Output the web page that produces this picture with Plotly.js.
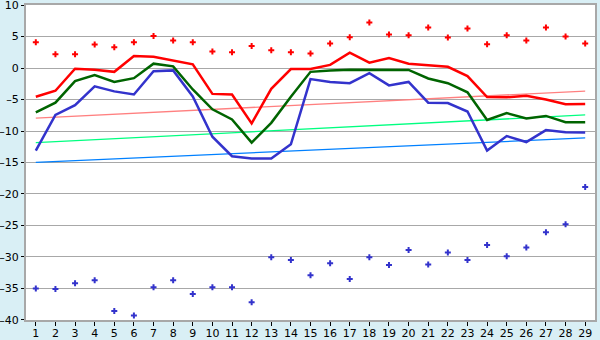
<!DOCTYPE html>
<html>
<head>
<meta charset="utf-8">
<script src="https://cdn.plot.ly/plotly-3.0.1.min.js"></script>
<style>html,body{margin:0;padding:0;background:#d9eff5;}#chart{width:600px;height:340px;}</style>
</head>
<body>
<div id="chart"></div>
<script>
const categories = [1,2,3,4,5,6,7,8,9,10,11,12,13,14,15,16,17,18,19,20,21,22,23,24,25,26,27,28,29];
const redPoints = [4.1,2.2,2.2,3.75,3.3,4.1,5.1,4.4,4.1,2.65,2.5,3.5,2.85,2.5,2.3,3.9,4.9,7.25,5.35,5.2,6.45,4.85,6.3,3.8,5.2,4.4,6.45,5.0,3.9];
const bluePoints = [-35,-35.1,-34.2,-33.7,-38.6,-39.3,-34.8,-33.7,-35.9,-34.8,-34.8,-37.2,-30.05,-30.5,-32.9,-31.0,-33.5,-30.05,-31.3,-28.9,-31.2,-29.3,-30.5,-28.1,-29.9,-28.5,-26.1,-24.8,-18.9];
const redLine = [-4.55,-3.6,-0.1,-0.27,-0.6,1.9,1.8,1.15,0.6,-4.1,-4.2,-8.8,-3.3,-0.15,-0.15,0.5,2.45,0.85,1.6,0.7,0.5,0.2,-1.27,-4.6,-4.65,-4.4,-5.0,-5.75,-5.7];
const greenLine = [-7.05,-5.5,-2.06,-1.1,-2.2,-1.6,0.7,0.27,-3.4,-6.55,-8.15,-11.85,-8.7,-4.55,-0.6,-0.37,-0.27,-0.27,-0.27,-0.3,-1.65,-2.4,-3.85,-8.25,-7.15,-8.0,-7.6,-8.6,-8.6];
const blueLine = [-13.1,-7.45,-5.9,-2.9,-3.7,-4.2,-0.5,-0.37,-4.5,-10.9,-14.0,-14.35,-14.35,-12.1,-1.75,-2.2,-2.4,-0.8,-2.75,-2.2,-5.5,-5.55,-6.9,-13.1,-10.8,-11.75,-9.85,-10.2,-10.25];
const trendX = [1, 29];
const trendPink = [-7.95, -3.65];
const trendGreen = [-11.85, -7.45];
const trendBlue = [-14.97, -11.1];
const yTicks = [10,5,0,-5,-10,-15,-20,-25,-30,-35,-40];

const traces = [
  {x: trendX, y: trendPink, mode:'lines', line:{color:'#ff8080', width:1.3}},
  {x: trendX, y: trendGreen, mode:'lines', line:{color:'#00ff80', width:1.3}},
  {x: trendX, y: trendBlue, mode:'lines', line:{color:'#0080ff', width:1.3}},
  {x: categories, y: blueLine, mode:'lines', line:{color:'#3333cc', width:2.5}},
  {x: categories, y: greenLine, mode:'lines', line:{color:'#006400', width:2.5}},
  {x: categories, y: redLine, mode:'lines', line:{color:'#ff0000', width:2.5}},
  {x: categories, y: redPoints, mode:'markers', marker:{symbol:'cross', size:5, color:'#ff0000'}},
  {x: categories, y: bluePoints, mode:'markers', marker:{symbol:'cross', size:5, color:'#3333cc'}}
];
const layout = {
  width:600, height:340,
  paper_bgcolor:'#d9eff5', plot_bgcolor:'#ffffff',
  showlegend:false,
  margin:{l:26, r:5, t:5, b:20, pad:0},
  font:{family:'DejaVu Sans, Verdana, sans-serif', size:11, color:'#000'},
  xaxis:{range:[0.5,29.5], tickvals:categories, ticktext:categories.map(String), showgrid:false, zeroline:false,
         showline:true, linecolor:'#a8a8a8', linewidth:2, mirror:true, ticks:'outside', ticklen:4, tickcolor:'#000',
         ticklabelstandoff:-2, ticklabeloverflow:'allow', fixedrange:true},
  yaxis:{range:[-40.02,10.02], tickvals:yTicks, ticktext:yTicks.map(v=>v<0?'\u2013'+Math.abs(v):String(v)), showgrid:true, gridcolor:'#a8a8a8', gridwidth:1,
         zeroline:false, showline:true, linecolor:'#a8a8a8', linewidth:2, mirror:true, ticks:'outside', ticklen:3, tickcolor:'#000',
         ticklabeloverflow:'allow', fixedrange:true}
};
Plotly.newPlot('chart', traces, layout, {displayModeBar:false, staticPlot:true});
</script>
</body>
</html>
